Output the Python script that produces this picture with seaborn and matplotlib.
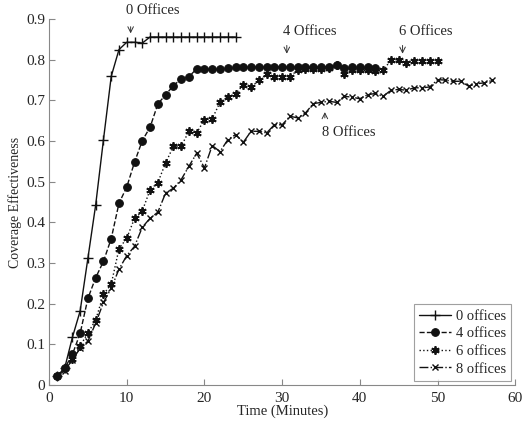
import numpy as np
import pandas as pd
import matplotlib
matplotlib.use("Agg")
import matplotlib.pyplot as plt
import seaborn as sns

# Coverage effectiveness over time for different numbers of offices

t0 = list(range(1, 25))
cov0 = [0.022, 0.041, 0.117, 0.182, 0.312, 0.443, 0.603, 0.759, 0.825, 0.843,
        0.843, 0.841, 0.856, 0.856, 0.856, 0.856, 0.856, 0.856, 0.856, 0.856,
        0.856, 0.856, 0.856, 0.856]

t4 = list(range(1, 43))
cov4 = [0.022, 0.041, 0.075, 0.127, 0.213, 0.264, 0.304, 0.360, 0.447, 0.487,
        0.548, 0.601, 0.634, 0.691, 0.714, 0.736, 0.753, 0.758, 0.778, 0.776,
        0.776, 0.776, 0.780, 0.782, 0.781, 0.782, 0.782, 0.781, 0.782, 0.782,
        0.781, 0.782, 0.782, 0.781, 0.782, 0.782, 0.786, 0.780, 0.781, 0.781,
        0.781, 0.780]

t6 = list(range(1, 51))
cov6 = [0.022, 0.041, 0.064, 0.096, 0.128, 0.160, 0.223, 0.248, 0.335, 0.361,
        0.410, 0.428, 0.480, 0.498, 0.546, 0.587, 0.587, 0.624, 0.620, 0.653,
        0.655, 0.695, 0.709, 0.715, 0.739, 0.733, 0.749, 0.764, 0.757, 0.758,
        0.758, 0.775, 0.778, 0.776, 0.778, 0.780, 0.788, 0.766, 0.774, 0.774,
        0.774, 0.772, 0.774, 0.799, 0.800, 0.792, 0.798, 0.798, 0.798, 0.798]

t8 = list(range(1, 58))
cov8 = [0.022, 0.035, 0.062, 0.090, 0.108, 0.152, 0.203, 0.238, 0.285, 0.318,
        0.341, 0.388, 0.410, 0.425, 0.472, 0.484, 0.505, 0.538, 0.570, 0.534,
        0.589, 0.574, 0.603, 0.616, 0.597, 0.624, 0.624, 0.620, 0.640, 0.640,
        0.661, 0.657, 0.669, 0.692, 0.695, 0.698, 0.695, 0.710, 0.708, 0.704,
        0.714, 0.717, 0.710, 0.725, 0.727, 0.725, 0.731, 0.731, 0.733, 0.751,
        0.750, 0.747, 0.747, 0.735, 0.741, 0.743, 0.749]

labels = ["0 offices", "4 offices", "6 offices", "8 offices"]
x_ticks = [0, 10, 20, 30, 40, 50, 60]
y_ticks = [0, 0.1, 0.2, 0.3, 0.4, 0.5, 0.6, 0.7, 0.8, 0.9]
y_tick_labels = ["0", "0.1", "0.2", "0.3", "0.4", "0.5", "0.6", "0.7", "0.8", "0.9"]

sns.set_style("white")
plt.rcParams["font.family"] = ["Liberation Serif", "DejaVu Serif"]

fig = plt.figure(figsize=(5.22, 4.24), dpi=100)
ax = fig.add_axes([0.094, 0.092, 0.893, 0.863])

ink = "#111111"
asterisk = (6, 2, 0)
series = [
    (t0, cov0, "-", "+", 7.0, 1.0),
    (t4, cov4, "--", "o", 5.5, 0.8),
    (t6, cov6, ":", asterisk, 6.0, 1.3),
    (t8, cov8, "-.", "x", 4.5, 1.0),
]
for (t, c, ls, mk, ms, mew), lab in zip(series, labels):
    df = pd.DataFrame({"Time": t, "Coverage": c})
    sns.lineplot(data=df, x="Time", y="Coverage", ax=ax, color=ink,
                 linestyle=ls, linewidth=1.0, marker=mk, markersize=ms,
                 markeredgecolor=ink, markerfacecolor=ink, markeredgewidth=mew,
                 label=lab)

ax.set_xlim(0, 60)
ax.set_ylim(0, 0.9)
ax.set_xticks(x_ticks)
ax.set_yticks(y_ticks)
ax.set_yticklabels(y_tick_labels)
ax.tick_params(direction="in", length=4, width=0.8, color="#888888",
               labelsize=11, bottom=True, left=True)
ax.tick_params(axis="x", pad=5)
ax.tick_params(axis="y", pad=3)
sns.despine(ax=ax)
for s in ["left", "bottom"]:
    ax.spines[s].set_color("#888888")
    ax.spines[s].set_linewidth(0.8)

ax.set_xlabel("Time (Minutes)", fontsize=10.5, labelpad=0)
ax.set_ylabel("Coverage Effectiveness", fontsize=10, labelpad=3)

# annotations with arrows
notes = [
    ("0 Offices", 13.4, 0.922, 10.5, 0.888, 0.858),
    ("4 Offices", 33.5, 0.870, 30.6, 0.842, 0.808),
    ("6 Offices", 48.5, 0.870, 45.5, 0.842, 0.808),
]
for txt, tx, ty, ax_x, y_start, y_end in notes:
    ax.text(tx, ty, txt, ha="center", va="center", fontsize=10.5)
    ax.annotate("", xy=(ax_x, y_end), xytext=(ax_x, y_start),
                arrowprops=dict(arrowstyle="->", color="#333333", lw=0.7))
ax.text(38.6, 0.620, "8 Offices", ha="center", va="center", fontsize=10.5)
ax.annotate("", xy=(35.5, 0.678), xytext=(35.5, 0.650),
            arrowprops=dict(arrowstyle="->", color="#333333", lw=0.7))

leg = ax.legend(loc="lower right", fontsize=10.5, frameon=True, fancybox=False,
                handlelength=2.2, borderpad=0.35, labelspacing=0.3,
                handletextpad=0.3, borderaxespad=0.3)
leg.get_frame().set_edgecolor("#888888")
leg.get_frame().set_linewidth(0.8)

fig.savefig("out.png", dpi=100)
